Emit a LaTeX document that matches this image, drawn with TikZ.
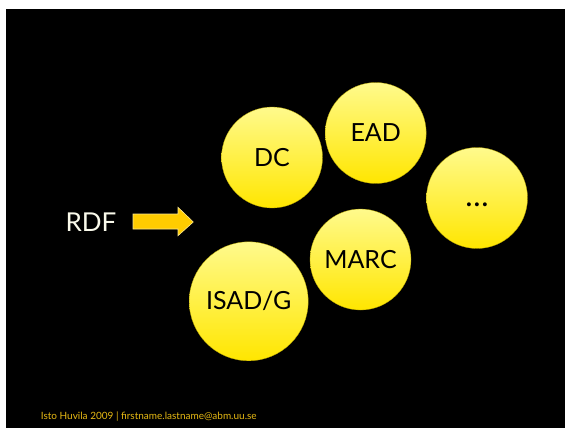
\documentclass[tikz,border=0pt]{standalone}
\usepackage{fontspec}
\setmainfont{Lato}
\usepackage{tikz}
\usetikzlibrary{calc,shapes}
\tikzset{>=latex}
\definecolor{lightyellow}{RGB}{255,250,140}
\definecolor{deepyellow}{RGB}{255,230,0}
\definecolor{arrowgold}{RGB}{255,204,0}
\definecolor{footgold}{RGB}{230,185,20}
\definecolor{cream}{RGB}{250,250,235}
\tikzset{
  bubble/.style={circle, inner sep=0pt, top color=lightyellow, bottom color=deepyellow,
    draw=deepyellow!70!black, line width=0.3pt, font=\fontsize{25}{30}\selectfont, text=black}
}

\begin{document}
\begin{tikzpicture}[x=1pt,y=-1pt]
    \useasboundingbox (0,0) rectangle (565,428);
    \fill [white] (0,0) rectangle (565,428);
    \fill [black] (6,9) rectangle (565,428);
    \node (dc) at (272,157.5) [bubble, minimum size=101pt]{DC};
    \node (ead) at (375.7,133) [bubble, minimum size=101pt]{EAD};
    \node (more) at (477,198) [bubble, minimum size=101pt, text height=17.4pt, text depth=0pt, font=\fontsize{31}{34}\selectfont]{\dots};
    \node (marc) at (360.5,259.5) [bubble, minimum size=101pt]{MARC};
    \node (isad) at (248.7,301.3) [bubble, minimum size=119pt]{ISAD/G};
    \node (rdf) at (91,222) [text=cream, font=\fontsize{26}{30}\selectfont]{RDF};
    \draw [fill=arrowgold, draw=cream!60!arrowgold, line width=0.6pt] (133,214) -- (178,214) -- (178,207.3) -- (193.3,222) -- (178,235.7) -- (178,229) -- (133,229) -- cycle;
    \node (foot) at (40.7,419.7) [anchor=base west, inner sep=0pt, text=footgold, font=\fontsize{10}{12}\selectfont]{Isto Huvila 2009 | firstname.lastname@abm.uu.se};
  \end{tikzpicture}
\end{document}
